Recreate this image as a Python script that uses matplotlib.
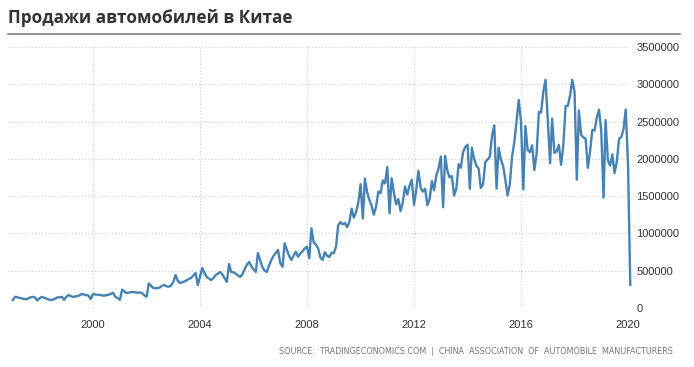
import matplotlib
matplotlib.use("Agg")
import matplotlib.pyplot as plt
import matplotlib.ticker as mticker
import numpy as np
import pandas as pd

# Monthly car sales in China (thousands of units)
y1997 = [107, 150, 145, 135, 130, 122, 116, 130, 143, 150, 140, 100]
y1998 = [130, 150, 140, 128, 115, 108, 112, 125, 140, 145, 150, 110]
y1999 = [150, 174, 160, 150, 155, 160, 170, 188, 180, 172, 165, 120]
y2000 = [190, 180, 178, 175, 170, 165, 172, 178, 190, 205, 150, 134]
y2001 = [108, 245, 225, 201, 205, 212, 215, 210, 205, 208, 200, 170]
y2002 = [150, 330, 300, 270, 265, 268, 275, 300, 308, 290, 285, 300]
y2003 = [350, 442, 370, 335, 345, 355, 370, 390, 402, 435, 469, 308]
y2004 = [420, 536, 470, 416, 395, 375, 400, 442, 460, 483, 450, 400]
y2005 = [349, 590, 483, 480, 460, 440, 416, 450, 520, 580, 617, 560]
y2006 = [520, 483, 737, 640, 550, 500, 483, 570, 644, 700, 740, 778]
y2007 = [600, 553, 867, 780, 700, 644, 700, 755, 688, 730, 760, 800]
y2008 = [822, 666, 1069, 880, 850, 800, 680, 644, 750, 700, 684, 740]
y2009 = [736, 827, 1106, 1152, 1122, 1141, 1084, 1153, 1332, 1211, 1286, 1411]
y2010 = [1661, 1200, 1736, 1551, 1450, 1373, 1250, 1360, 1560, 1540, 1710, 1670]
y2011 = [1890, 1270, 1740, 1550, 1390, 1460, 1300, 1420, 1630, 1520, 1640, 1720]
y2012 = [1380, 1590, 1840, 1610, 1560, 1600, 1380, 1460, 1700, 1580, 1780, 1870]
y2013 = [2030, 1350, 2040, 1840, 1750, 1770, 1510, 1600, 1930, 1880, 2090, 2160]
y2014 = [2190, 1600, 2150, 2000, 1910, 1870, 1610, 1660, 1960, 1990, 2030, 2310]
y2015 = [2450, 1600, 2150, 1990, 1910, 1720, 1510, 1660, 2030, 2220, 2500, 2790]
y2016 = [2500, 1590, 2440, 2120, 2090, 2180, 1850, 2070, 2630, 2620, 2900, 3060]
y2017 = [2520, 1940, 2540, 2080, 2100, 2190, 1920, 2180, 2710, 2710, 2850, 3060]
y2018 = [2900, 1720, 2650, 2320, 2290, 2270, 1880, 2100, 2390, 2380, 2550, 2660]
y2019 = [2370, 1480, 2520, 1980, 1910, 2060, 1810, 1960, 2270, 2290, 2400, 2660]
y2020 = [1940, 310]

yearly = [y1997, y1998, y1999, y2000, y2001, y2002, y2003, y2004, y2005, y2006,
          y2007, y2008, y2009, y2010, y2011, y2012, y2013, y2014, y2015, y2016,
          y2017, y2018, y2019, y2020]

y_ticks = [0, 500000, 1000000, 1500000, 2000000, 2500000, 3000000, 3500000]
x_tick_years = [2000, 2004, 2008, 2012, 2016, 2020]

title = "Продажи автомобилей в Китае"
source = "SOURCE:  TRADINGECONOMICS.COM  |  CHINA  ASSOCIATION  OF  AUTOMOBILE  MANUFACTURERS"

values = np.array([v for yr in yearly for v in yr], dtype=float) * 1000
dates = pd.date_range("1997-01-01", periods=len(values), freq="MS")

W, H = 694, 367
fig = plt.figure(figsize=(W / 100, H / 100), dpi=100)
fig.patch.set_facecolor("white")

ax_left, ax_right = 8, 628
ax_top, ax_bottom = 47, 308
ax = fig.add_axes([ax_left / W, 1 - ax_bottom / H, (ax_right - ax_left) / W, (ax_bottom - ax_top) / H])

ax.plot(dates, values, color="#4682b4", linewidth=1.7, solid_joinstyle="round", clip_on=False)

x0 = pd.Timestamp("1996-10-27")
x1 = pd.Timestamp("2020-01-01")
ax.set_xlim(x0, x1)
ax.set_ylim(0, 3500000)

ax.set_yticks(y_ticks)
ax.yaxis.set_major_formatter(mticker.FuncFormatter(lambda v, p: f"{int(v)}"))
ax.yaxis.tick_right()
ax.set_xticks([pd.Timestamp(f"{y}-01-01") for y in x_tick_years])
ax.set_xticklabels([str(y) for y in x_tick_years])

ax.grid(True, color="#c8c8c8", linestyle=(0, (1, 2)), linewidth=0.8)
for s in ax.spines.values():
    s.set_visible(False)
ax.tick_params(axis="y", length=0, pad=6, labelsize=8, labelcolor="#333333")
ax.tick_params(axis="x", length=0, pad=8.5, labelsize=8, labelcolor="#333333")
for lbl in ax.get_yticklabels() + ax.get_xticklabels():
    lbl.set_fontfamily("Liberation Sans")
for lbl in ax.get_yticklabels():
    lbl.set_horizontalalignment("left")

fig.text(8 / W, 1 - 18 / H, title, fontsize=12.3, fontweight="bold", color="#333333",
         fontfamily="Open Sans", va="center", ha="left")
fig.add_artist(plt.Line2D([8 / W, 680 / W], [1 - 34 / H, 1 - 34 / H], color="#808080", linewidth=1.2))

fig.text(673 / W, 1 - 352 / H, source, fontsize=5.75, color="#777777",
         fontfamily="DejaVu Sans", va="center", ha="right")

fig.savefig("out.png", dpi=100, facecolor="white")
